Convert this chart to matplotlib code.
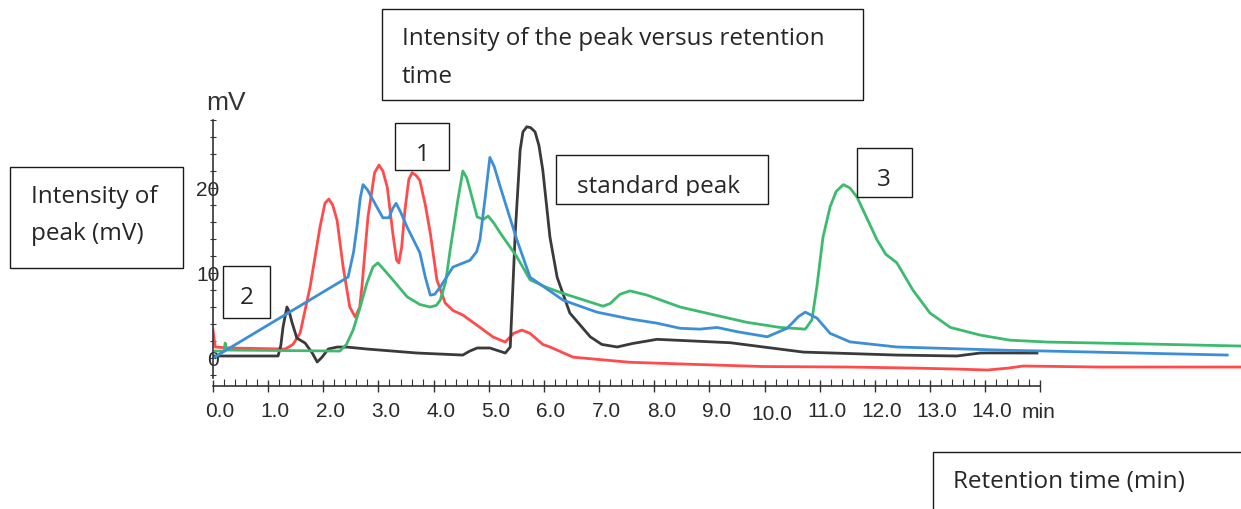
import matplotlib
matplotlib.use('Agg')
import matplotlib.pyplot as plt
from matplotlib.patches import Rectangle
from matplotlib.transforms import ScaledTranslation, Bbox, TransformedBbox
import numpy as np

W, H = 1241, 509

# retention time (min) and intensity (mV)
red_t = [0.0, 0.04, 0.31, 1.31, 1.45, 1.58, 1.76, 1.94, 2.03, 2.10, 2.17, 2.25, 2.36, 2.48, 2.58, 2.66,
         2.70, 2.81, 2.93, 3.01, 3.08, 3.16, 3.26, 3.33, 3.37, 3.42, 3.48, 3.55, 3.61, 3.68, 3.75,
         3.85, 3.94, 4.06, 4.21, 4.35, 4.53, 4.80, 5.08, 5.30, 5.45, 5.60, 5.75, 5.98, 6.11, 6.53,
         7.56, 8.50, 9.97, 11.55, 12.69, 13.50, 14.04, 14.40, 14.69, 16.09, 18.64]
red_mv = [3.29, 1.29, 1.18, 1.06, 1.6, 2.94, 8.35, 15.4, 18.2, 18.7, 18.0, 16.2, 10.7, 6.0, 4.82, 6.0,
          8.35, 16.6, 21.8, 22.7, 22.0, 20.1, 14.7, 11.5, 11.2, 13.0, 17.4, 21.0, 21.8, 21.5, 20.9,
          18.0, 14.7, 9.18, 6.47, 5.6, 5.06, 3.8, 2.47, 1.88, 2.9, 3.29, 2.9, 1.6, 1.3, 0.1,
          -0.5, -0.7, -1.0, -1.06, -1.18, -1.3, -1.41, -1.2, -0.94, -1.06, -1.06]

black_t = [0.0, 1.18, 1.23, 1.27, 1.34, 1.38, 1.43, 1.52, 1.67, 1.80, 1.89, 1.98, 2.09, 2.25, 2.43,
           2.79, 3.70, 4.53, 4.65, 4.79, 5.02, 5.20, 5.30, 5.39, 5.48, 5.57, 5.62, 5.69, 5.76, 5.84,
           5.91, 5.98, 6.11, 6.24, 6.47, 6.84, 7.05, 7.33, 7.60, 8.05, 9.38, 10.70, 12.40, 13.49,
           13.91, 14.10, 14.94]
black_mv = [0.24, 0.24, 1.5, 3.65, 6.0, 5.5, 4.24, 2.35, 1.76, 0.59, -0.47, 0.12, 1.06, 1.29, 1.29,
            1.06, 0.59, 0.35, 0.8, 1.18, 1.18, 0.8, 0.59, 1.29, 14.7, 24.5, 26.6, 27.2, 27.1, 26.6,
            25.0, 22.1, 14.2, 9.5, 5.3, 2.5, 1.6, 1.3, 1.7, 2.2, 1.8, 0.7, 0.35, 0.24,
            0.59, 0.6, 0.59]

green_t = [0.04, 0.20, 0.22, 0.25, 2.30, 2.42, 2.54, 2.66, 2.79, 2.90, 2.99, 3.10, 3.26, 3.52, 3.75,
           3.94, 4.05, 4.12, 4.22, 4.30, 4.44, 4.53, 4.60, 4.66, 4.79, 4.90, 4.99, 5.10, 5.21, 5.51,
           5.75, 6.05, 6.35, 7.07, 7.20, 7.38, 7.56, 7.87, 8.47, 9.07, 9.68, 10.28, 10.74, 10.86,
           10.95, 11.06, 11.19, 11.30, 11.43, 11.55, 11.68, 12.04, 12.20, 12.40, 12.69, 13.00,
           13.37, 13.91, 14.45, 15.13, 16.94, 18.64]
green_mv = [0.82, 0.82, 1.76, 0.94, 0.82, 1.6, 3.29, 5.8, 8.8, 10.7, 11.2, 10.4, 9.2, 7.2, 6.3,
            6.0, 6.2, 6.8, 9.0, 12.7, 18.6, 22.0, 21.2, 19.8, 16.6, 16.3, 16.7, 15.8, 14.7, 11.9,
            9.2, 8.3, 7.6, 6.1, 6.4, 7.5, 7.9, 7.4, 6.0, 5.1, 4.2, 3.6, 3.4, 4.5,
            8.4, 14.2, 17.8, 19.6, 20.4, 20.0, 18.9, 13.9, 12.2, 11.2, 8.0, 5.3,
            3.6, 2.7, 2.1, 1.88, 1.65, 1.41]

blue_t = [0.0, 2.45, 2.55, 2.61, 2.67, 2.72, 2.80, 2.90, 3.08, 3.19, 3.26, 3.32, 3.40, 3.52, 3.75,
          3.85, 3.94, 4.02, 4.12, 4.35, 4.66, 4.78, 4.84, 4.93, 5.02, 5.10, 5.21, 5.51, 5.75, 6.35,
          6.96, 7.56, 8.05, 8.47, 8.83, 9.14, 9.50, 10.05, 10.41, 10.62, 10.74, 10.95, 11.19,
          11.55, 12.40, 14.45, 15.13, 18.39]
blue_mv = [0.0, 9.53, 12.5, 15.4, 18.8, 20.4, 19.8, 18.6, 16.5, 16.5, 17.6, 18.2, 17.2, 15.4, 12.4,
           9.5, 7.4, 7.5, 8.35, 10.7, 11.5, 12.5, 13.9, 18.6, 23.6, 22.5, 20.1, 13.9, 9.5, 6.8,
           5.4, 4.6, 4.1, 3.5, 3.4, 3.6, 3.1, 2.5, 3.5, 4.9, 5.4, 4.7, 2.9,
           1.9, 1.3, 0.9, 0.82, 0.35]

x_major = list(range(16))
x_labels = ['%.1f' % v for v in range(15)] + ['']
y_major = [0, 10, 20]
y_labels = ['0', '10', '20']

tick_font = ['Liberation Sans', 'DejaVu Sans']
box_font = ['Open Sans', 'DejaVu Sans']


def px(x, y):
    return x / W, 1 - y / H


fig = plt.figure(figsize=(W / 100, H / 100), dpi=100)
ax = fig.add_axes([213 / W, (H - 386) / H, (W - 213) / W, (386 - 120) / H])
ax.set_xlim(0, 18.64)
ax.set_ylim(-3.29, 28.0)

ax.plot(red_t, red_mv, color='#ff4b4b', lw=2.0)
ax.plot(black_t, black_mv, color='#3a3a3a', lw=2.0)
ax.plot(green_t, green_mv, color='#3cbb6e', lw=2.0)
ax.plot(blue_t, blue_mv, color='#3c8fd6', lw=2.0)

for s in ['top', 'right']:
    ax.spines[s].set_visible(False)
ax.spines['left'].set_bounds(-2.4, 28)
ax.spines['bottom'].set_bounds(0, 15)
for s in ['left', 'bottom']:
    ax.spines[s].set_color('#333333')
    ax.spines[s].set_linewidth(1.2)

ax.set_xticks(x_major)
ax.set_xticks(np.arange(0, 15.01, 0.2), minor=True)
ax.set_xticklabels(x_labels, fontfamily=tick_font, fontsize=15, color='#2a2a2a')
ax.tick_params(axis='x', which='major', direction='inout', length=9, width=1, color='#333333', pad=7)
ax.tick_params(axis='x', which='minor', direction='in', length=5, width=0.8, color='#333333')

ax.set_yticks(y_major)
ax.set_yticks(np.arange(-2, 28.1, 2), minor=True)
ax.set_yticklabels(y_labels, fontfamily=tick_font, fontsize=15, color='#2a2a2a')
ax.tick_params(axis='y', which='both', direction='inout', length=5, width=0.8, color='#333333', pad=-7)

# labels sit a little right of their ticks, 10.0 a bit lower
for i, t in enumerate(ax.xaxis.get_major_ticks()):
    dy = -3 / 100 if i == 10 else 0
    t.label1.set_transform(t.label1.get_transform() + ScaledTranslation(7 / 100, dy, fig.dpi_scale_trans))

fig.text(*px(226, 110), 'mV', ha='center', va='baseline', fontsize=19,
         family=['Liberation Sans', 'DejaVu Sans'], color='#333333')
fig.text(*px(1022, 418), 'min', ha='left', va='baseline', fontsize=15, family=tick_font, color='#2a2a2a')


def box(x0, y0, x1, y1):
    fig.patches.append(Rectangle(px(x0, y1), (x1 - x0) / W, (y1 - y0) / H, transform=fig.transFigure,
                                 facecolor='white', edgecolor='#1a1a1a', lw=1.0, zorder=5))


def label(x, y, s, ha='left'):
    return fig.text(*px(x, y), s, ha=ha, va='baseline', fontsize=17.5, family=box_font,
                    color='#262626', zorder=6)


box(382, 9, 863, 100)
label(402, 45, 'Intensity of the peak versus retention')
label(402, 83, 'time')

box(10, 167, 183, 268)
label(31, 203, 'Intensity of')
label(31, 240, 'peak (mV)')

box(223, 266, 270, 318)
label(247, 304, '2', ha='center')

box(395, 123, 449, 170)
label(423, 161, '1', ha='center')

box(857, 148, 912, 197)
label(884, 186, '3', ha='center')

box(556, 155, 768, 204)
sp = label(577, 193, 'standard peak')
sp.set_clip_box(TransformedBbox(Bbox([px(556, 196), px(768, 155)]), fig.transFigure))
sp.set_clip_on(True)

box(933, 452, 1260, 530)
label(953, 488, 'Retention time (min)')

fig.savefig('out.png', dpi=100)
